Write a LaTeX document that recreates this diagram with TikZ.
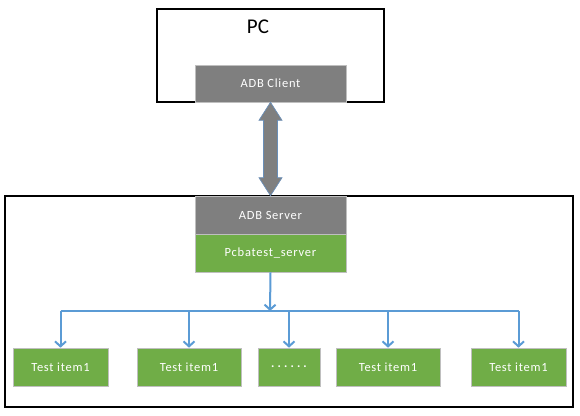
\documentclass[tikz,border=0pt]{standalone}
\usepackage{fontspec}
\setmainfont{Carlito}
\usetikzlibrary{arrows.meta,calc}
\definecolor{boxgray}{HTML}{7F7F7F}
\definecolor{boxgreen}{HTML}{70AD47}
\definecolor{lineblue}{HTML}{5B9BD5}
\definecolor{edgegray}{HTML}{BFBFBF}
\definecolor{arrowedge}{HTML}{6A8FB8}
\newfontfamily\labelfont[LetterSpace=6]{Carlito}
\tikzset{
  x=1pt,y=-1pt,
  frame/.style={draw=black,line width=1.4pt,fill=white},
  graybox/.style={draw=edgegray,line width=0.6pt,fill=boxgray,text=white,font=\labelfont\fontsize{12.5}{14}\selectfont,inner sep=0pt},
  greenbox/.style={draw=edgegray,line width=0.6pt,fill=boxgreen,text=white,font=\labelfont\fontsize{12.5}{14}\selectfont,inner sep=0pt},
  link/.style={draw=lineblue,line width=2pt,-{Straight Barb[length=5pt,width=11pt,line width=2pt]}},
  trunk/.style={draw=lineblue,line width=2pt},
}
\begin{document}
\begin{tikzpicture}
\useasboundingbox (0,0) rectangle (580,415);
% frames
\node[frame,minimum width=227pt,minimum height=93pt,inner sep=0pt] (pc) at (270.5,55.5) {};
\node[frame,minimum width=568pt,minimum height=211pt,inner sep=0pt] (dev) at (289,301.5) {};
\node[font=\fontsize{21}{24}\selectfont] (pclabel) at (258,27) {PC};
% gray / green boxes
\node[graybox,minimum width=151pt,minimum height=37pt] (client) at (270.5,83.5) {ADB Client};
\node[graybox,minimum width=151pt,minimum height=38pt] (server) at (270.5,215) {ADB Server};
\node[greenbox,minimum width=151pt,minimum height=38pt] (pcba) at (270.5,253) {Pcbatest\_server};
% double arrow between client and server
\draw[fill=boxgray,draw=arrowedge,line width=0.7pt,line join=miter]
  (client.south)
  -- ($(client.south)+(11.5,18)$) -- ($(client.south)+(7,18)$)
  -- ($(server.north)+(7,-18)$) -- ($(server.north)+(11.5,-18)$)
  -- (server.north)
  -- ($(server.north)+(-11.5,-18)$) -- ($(server.north)+(-7,-18)$)
  -- ($(client.south)+(-7,18)$) -- ($(client.south)+(-11.5,18)$)
  -- cycle;
% test items
\node[greenbox,minimum width=95pt,minimum height=38pt] (t1) at (60.5,367) {Test item1};
\node[greenbox,minimum width=104pt,minimum height=38pt] (t2) at (189,367) {Test item1};
\node[greenbox,minimum width=62pt,minimum height=38pt] (t3) at (289,367) {\addfontfeature{LetterSpace=25}\bfseries ......};
\node[greenbox,minimum width=104pt,minimum height=38pt] (t4) at (388,367) {Test item1};
\node[greenbox,minimum width=95pt,minimum height=38pt] (t5) at (518.5,367) {Test item1};
% tree connectors
\coordinate (bus) at (270,311);
\coordinate (busL) at (t1.north |- bus);
\coordinate (busR) at (t5.north |- bus);
\draw[link] (pcba.south) -- (bus);
\draw[trunk] (busL) -- (busR);
\draw[link] (busL) -- (t1.north);
\draw[link] (t2.north |- bus) -- (t2.north);
\draw[link] (t3.north |- bus) -- (t3.north);
\draw[link] (t4.north |- bus) -- (t4.north);
\draw[link] (busR) -- (t5.north);
\end{tikzpicture}
\end{document}
